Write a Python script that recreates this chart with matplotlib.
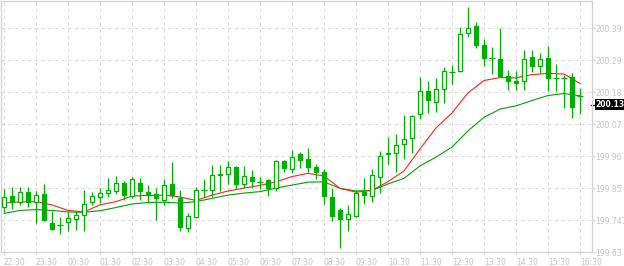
import matplotlib
matplotlib.use("Agg")
import matplotlib.pyplot as plt
import matplotlib.transforms as mtransforms
from matplotlib.patches import Rectangle

# 15-minute candles, 22:30 -> 16:30
opens = [199.782, 199.820, 199.799, 199.834, 199.799, 199.826, 199.728, 199.722, 199.731, 199.741,
         199.755, 199.799, 199.816, 199.829, 199.836, 199.864, 199.821, 199.864, 199.834, 199.826,
         199.807, 199.860, 199.812, 199.711, 199.750, 199.839, 199.840, 199.896, 199.894, 199.918,
         199.862, 199.884, 199.867, 199.874, 199.847, 199.938, 199.913, 199.963, 199.945, 199.919,
         199.902, 199.817, 199.773, 199.741, 199.753, 199.835, 199.821, 199.885, 199.965, 199.965,
         199.996, 200.016, 200.097, 200.176, 200.138, 200.182, 200.241, 200.244, 200.372, 200.397,
         200.332, 200.287, 200.284, 200.227, 200.210, 200.209, 200.291, 200.261, 200.288, 200.220,
         200.221, 200.224, 200.161]
highs = [199.843, 199.850, 199.850, 199.850, 199.836, 199.862, 199.769, 199.748, 199.766, 199.770,
         199.840, 199.832, 199.846, 199.882, 199.889, 199.872, 199.883, 199.880, 199.858, 199.847,
         199.879, 199.935, 199.840, 199.762, 199.849, 199.877, 199.925, 199.926, 199.938, 199.922,
         199.923, 199.908, 199.886, 199.879, 199.941, 199.943, 199.975, 199.969, 199.984, 199.929,
         199.912, 199.847, 199.781, 199.790, 199.840, 199.880, 199.911, 199.973, 200.021, 200.030,
         200.094, 200.095, 200.224, 200.210, 200.220, 200.258, 200.263, 200.394, 200.463, 200.412,
         200.353, 200.326, 200.390, 200.249, 200.243, 200.316, 200.314, 200.306, 200.329, 200.268,
         200.231, 200.239, 200.186]
lows = [199.766, 199.775, 199.790, 199.784, 199.730, 199.735, 199.705, 199.690, 199.701, 199.705,
        199.701, 199.791, 199.795, 199.817, 199.828, 199.805, 199.812, 199.805, 199.795, 199.740,
        199.790, 199.812, 199.700, 199.697, 199.750, 199.817, 199.815, 199.836, 199.862, 199.847,
        199.846, 199.846, 199.844, 199.821, 199.838, 199.903, 199.898, 199.914, 199.903, 199.878,
        199.794, 199.735, 199.645, 199.702, 199.750, 199.793, 199.799, 199.830, 199.929, 199.902,
        199.945, 199.967, 200.080, 200.101, 200.104, 200.135, 200.200, 200.242, 200.359, 200.323,
        200.262, 200.234, 200.226, 200.179, 200.179, 200.180, 200.241, 200.238, 200.175, 200.175,
        200.119, 200.086, 200.098]
closes = [199.818, 199.801, 199.833, 199.800, 199.822, 199.740, 199.709, 199.722, 199.745, 199.755,
          199.792, 199.819, 199.829, 199.839, 199.863, 199.824, 199.877, 199.837, 199.823, 199.812,
          199.856, 199.822, 199.716, 199.751, 199.839, 199.839, 199.890, 199.890, 199.918, 199.862,
          199.887, 199.872, 199.867, 199.848, 199.938, 199.916, 199.952, 199.941, 199.918, 199.903,
          199.821, 199.753, 199.743, 199.758, 199.831, 199.825, 199.891, 199.955, 199.961, 199.992,
          200.012, 200.092, 200.176, 200.145, 200.182, 200.244, 200.241, 200.370, 200.389, 200.334,
          200.290, 200.287, 200.228, 200.209, 200.205, 200.284, 200.262, 200.284, 200.222, 200.220,
          200.221, 200.122, 200.161]

# moving averages, read every second candle
ma_idx = list(range(0, 73, 2))
red_ma = [199.796, 199.800, 199.801, 199.790, 199.771, 199.766, 199.790, 199.801, 199.820, 199.822,
          199.823, 199.817, 199.805, 199.823, 199.837, 199.847, 199.856, 199.868, 199.886, 199.897,
          199.888, 199.846, 199.833, 199.839, 199.869, 199.905, 199.980, 200.051, 200.102, 200.170,
          200.212, 200.222, 200.221, 200.232, 200.236, 200.234, 200.202]
green_ma = [199.761, 199.771, 199.774, 199.771, 199.766, 199.765, 199.770, 199.781, 199.793, 199.798,
            199.799, 199.796, 199.801, 199.812, 199.823, 199.830, 199.835, 199.847, 199.857, 199.867,
            199.868, 199.846, 199.837, 199.839, 199.861, 199.880, 199.922, 199.952, 199.986, 200.041,
            200.087, 200.115, 200.126, 200.144, 200.161, 200.168, 200.160]

hour_labels = ['22:30', '23:30', '00:30', '01:30', '02:30', '03:30', '04:30', '05:30', '06:30',
               '07:30', '08:30', '09:30', '10:30', '11:30', '12:30', '13:30', '14:30', '15:30', '16:30']
price_ticks = [199.63, 199.7386, 199.8472, 199.9558, 200.0644, 200.173, 200.2816, 200.3902]
price_labels = ['199.63', '199.747', '199.85', '199.96', '200.07', '200.18', '200.29', '200.39']
last_price = 200.13

green = '#00b000'
grid_col = '#dcdcdc'
text_col = '#c4c4c4'

fig = plt.figure(figsize=(6.24, 2.66), dpi=100)
ax = fig.add_axes([1 / 624, 14 / 266, 591 / 624, 251 / 266])

# moving averages (under the candles)
ax.plot(ma_idx, green_ma, color='#00a000', lw=0.8, zorder=2)
ax.plot(ma_idx, red_ma, color='#ff2020', lw=0.8, zorder=2)

# candles
body_w = 0.52
for i in range(len(opens)):
    o, h, l, c = opens[i], highs[i], lows[i], closes[i]
    ax.vlines(i, l, h, color=green, lw=0.9, zorder=3)
    if abs(c - o) < 1e-6:
        ax.hlines(o, i - 0.33, i + 0.33, color=green, lw=0.9, zorder=4)
        continue
    face = 'white' if c > o else green
    ax.add_patch(Rectangle((i - body_w / 2, min(o, c)), body_w, abs(c - o),
                           facecolor=face, edgecolor=green, lw=0.9, zorder=4))

ax.set_xlim(-0.375, 73.5)
ax.set_ylim(199.63, 199.63 + 251 * 0.1086 / 32)

ax.set_xticks(range(0, 73, 4))
ax.set_xticklabels(hour_labels, ha='left')
ax.yaxis.tick_right()
ax.set_yticks(price_ticks)
ax.set_yticklabels(price_labels)
ax.tick_params(axis='y', colors=grid_col, labelcolor=text_col, labelsize=5.5,
               length=2, width=0.8, pad=0.5)
ax.tick_params(axis='x', colors=grid_col, labelcolor=text_col, labelsize=5.5,
               length=2, width=0.8, pad=2)

ax.grid(True, color=grid_col, ls=(0, (3, 3)), lw=0.8)
ax.set_axisbelow(True)
for sp in ax.spines.values():
    sp.set_color('#d2d2d2')
    sp.set_linewidth(0.9)

# last price marker on the right
trans = mtransforms.blended_transform_factory(ax.transAxes, ax.transData)
ax.plot([0.998, 1.005], [last_price, last_price], color='black', lw=0.9,
        transform=trans, clip_on=False)
ax.text(1.0065, last_price, '200.13', transform=trans, color='white', fontsize=5.5,
        fontweight='bold', va='center', ha='left',
        bbox=dict(boxstyle='square,pad=0.15', fc='black', ec='none'))

fig.savefig('out.png', dpi=100)
